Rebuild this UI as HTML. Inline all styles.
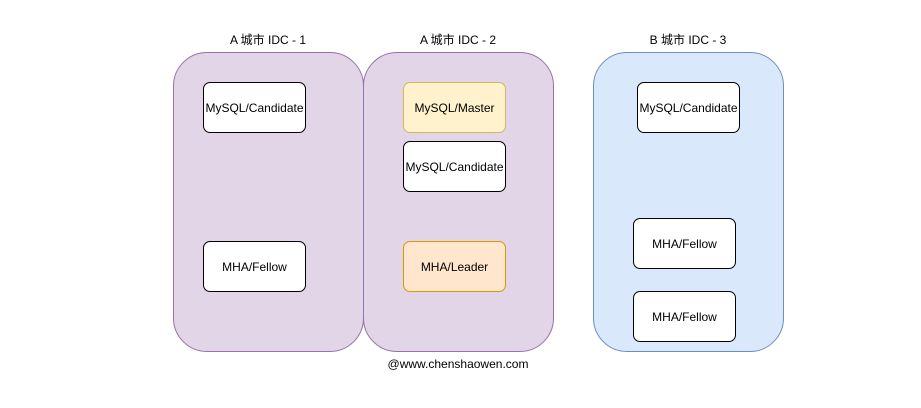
<!DOCTYPE html>
<html><head><meta charset="utf-8"><style>
body{margin:0;width:921px;height:408px;background:#fff;position:relative;overflow:hidden;font-family:"Liberation Sans","Noto Sans CJK SC",sans-serif;}
.c{position:absolute;box-sizing:border-box;border-radius:34px;}
.p{background:#e1d5e7;border:1px solid #9673a6;}
.b{background:#dae8fc;border:1px solid #6c8ebf;}
.n{position:absolute;box-sizing:border-box;width:103px;height:51px;padding-top:1px;border:1px solid #000;border-radius:7px;background:#fff;display:flex;align-items:center;justify-content:center;font-size:12px;color:#000;}
.t{position:absolute;font-size:12px;color:#000;text-align:center;width:190px;}
</style></head><body>
<div class="c p" style="left:173px;top:52px;width:191px;height:300px"></div>
<div class="c p" style="left:363px;top:52px;width:191px;height:300px"></div>
<div class="c b" style="left:593px;top:52px;width:191px;height:300px"></div>
<div class="t" style="left:173px;top:31px">A 城市 IDC - 1</div>
<div class="t" style="left:363px;top:31px">A 城市 IDC - 2</div>
<div class="t" style="left:593px;top:31px">B 城市 IDC - 3</div>
<div class="n" style="left:203px;top:82px">MySQL/Candidate</div>
<div class="n" style="left:203px;top:241px">MHA/Fellow</div>
<div class="n" style="left:403px;top:82px;background:#fff2cc;border-color:#d6b656">MySQL/Master</div>
<div class="n" style="left:403px;top:141px">MySQL/Candidate</div>
<div class="n" style="left:403px;top:241px;background:#ffe6cc;border-color:#d79b00">MHA/Leader</div>
<div class="n" style="left:637px;top:82px">MySQL/Candidate</div>
<div class="n" style="left:633px;top:218px">MHA/Fellow</div>
<div class="n" style="left:633px;top:291px">MHA/Fellow</div>
<div class="t" style="left:363px;top:357px">@www.chenshaowen.com</div>
</body></html>
